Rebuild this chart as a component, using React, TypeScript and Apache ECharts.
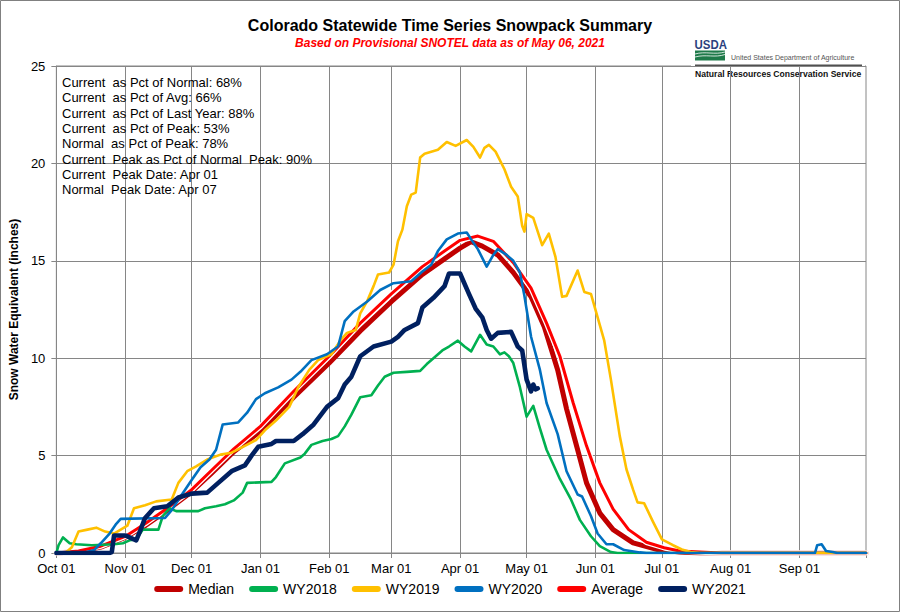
import React, { useEffect, useRef } from 'react';
import * as echarts from 'echarts';

const FONT = '"Liberation Sans", Arial, Helvetica, sans-serif';

// Month ticks (day of water year, 0 = Oct 01)
const monthStartDays = [0, 31, 61, 92, 123, 151, 182, 212, 243, 273, 304, 335];
const monthTickLabels = ['Oct 01', 'Nov 01', 'Dec 01', 'Jan 01', 'Feb 01', 'Mar 01', 'Apr 01', 'May 01', 'Jun 01', 'Jul 01', 'Aug 01', 'Sep 01'];
const yMin = 0;
const yMax = 25;
const yStep = 5;

// Series: [day of water year, snow water equivalent (inches)]
const median: [number, number][] = [
  [0, 0], [10, 0.08], [20, 0.3], [31, 0.8], [40, 1.4], [50, 2.2], [61, 3.15], [70, 4.1], [80, 5.2], [92, 6.25],
  [107, 8.0], [123, 9.75], [137, 11.4], [151, 12.9], [165, 14.3], [175, 15.1], [182, 15.65], [187, 15.98], [192, 15.75],
  [199, 15.3], [206, 14.4], [214, 13.15], [220, 11.6], [226, 9.4], [230, 7.4], [235, 5.3], [239, 3.6], [245, 2.05],
  [251, 1.2], [260, 0.52], [271, 0.18], [281, 0.05], [290, 0], [365, 0],
];
const average: [number, number][] = [
  [0, 0], [10, 0.1], [20, 0.35], [31, 0.85], [40, 1.5], [50, 2.3], [61, 3.25], [70, 4.25], [80, 5.35], [92, 6.5],
  [107, 8.3], [123, 10.1], [137, 11.8], [151, 13.3], [165, 14.7], [175, 15.5], [182, 16.05], [190, 16.27], [197, 16.0],
  [206, 14.9], [214, 13.6], [221, 11.8], [227, 10.1], [233, 7.7], [239, 5.5], [245, 3.6], [251, 2.25], [258, 1.2],
  [266, 0.55], [274, 0.27], [281, 0.1], [295, 0.02], [300, 0], [365, 0],
];
const wy2018: [number, number][] = [
  [0, 0], [1, 0.4], [3, 0.8], [6, 0.5], [9, 0.45], [16, 0.4], [26, 0.45], [30, 0.5], [33, 0.65], [36, 0.7], [39, 1.2],
  [46, 1.2], [48, 1.9], [51, 2.3], [54, 2.15], [64, 2.15], [67, 2.3], [72, 2.4], [76, 2.5], [80, 2.7], [84, 3.1],
  [86, 3.6], [97, 3.65], [99, 3.9], [103, 4.6], [110, 4.9], [112, 5.1], [115, 5.55], [120, 5.75], [124, 5.85],
  [127, 6.0], [130, 6.5], [133, 7.1], [137, 8.0], [142, 8.1], [145, 8.6], [148, 9.05], [152, 9.25], [158, 9.3],
  [164, 9.35], [167, 9.7], [170, 10.0], [174, 10.4], [177, 10.6], [181, 10.9], [184, 10.6], [187, 10.35], [191, 11.2],
  [194, 10.7], [197, 10.6], [200, 10.2], [202, 10.3], [204, 10.1], [206, 9.75], [209, 8.5], [212, 7.0], [215, 7.55],
  [218, 6.4], [221, 5.3], [223, 4.8], [227, 3.8], [232, 2.75], [236, 1.7], [241, 0.86], [245, 0.35], [250, 0.05],
  [253, 0], [365, 0],
];
const wy2019: [number, number][] = [
  [0, 0], [4, 0], [7, 0.3], [10, 1.1], [14, 1.2], [18, 1.3], [22, 1.1], [26, 1.0], [29, 1.2], [32, 1.4], [35, 2.3],
  [40, 2.45], [45, 2.65], [52, 2.75], [55, 3.6], [59, 4.2], [63, 4.45], [68, 4.8], [74, 5.05], [79, 5.15], [85, 5.5],
  [90, 5.8], [94, 6.3], [99, 6.8], [105, 7.5], [109, 8.5], [114, 9.4], [118, 9.9], [124, 10.2], [128, 10.9],
  [131, 11.3], [135, 11.45], [137, 12.3], [140, 12.9], [143, 13.7], [145, 14.3], [150, 14.4], [152, 14.8], [154, 16.0],
  [156, 16.6], [158, 17.8], [160, 18.4], [162, 18.5], [164, 20.3], [166, 20.5], [169, 20.6], [172, 20.7], [176, 21.1],
  [180, 20.9], [185, 21.2], [188, 20.85], [191, 20.3], [193, 20.8], [195, 20.95], [198, 20.6], [202, 19.7], [205, 18.8],
  [208, 18.3], [210, 16.8], [211, 16.5], [212, 17.4], [215, 17.2], [219, 15.8], [222, 16.4], [225, 15.2], [228, 13.15],
  [230, 13.2], [235, 14.5], [238, 13.4], [241, 13.3], [247, 10.9], [250, 8.9], [254, 6.0], [257, 4.3], [260, 3.25],
  [262, 2.6], [265, 2.55], [269, 1.6], [273, 0.7], [278, 0.4], [282, 0.18], [286, 0.05], [290, 0], [365, 0],
];
const wy2020: [number, number][] = [
  [0, 0], [12, 0], [17, 0.15], [20, 0.5], [24, 1.0], [27, 1.5], [29, 1.75], [49, 1.8], [52, 2.2], [56, 2.9], [61, 3.75],
  [65, 4.4], [69, 4.8], [72, 5.3], [75, 6.6], [82, 6.7], [86, 7.2], [90, 7.9], [94, 8.2], [100, 8.5], [106, 8.9],
  [110, 9.3], [115, 9.9], [122, 10.2], [127, 10.6], [130, 11.9], [134, 12.4], [140, 12.9], [146, 13.5], [152, 13.85],
  [160, 13.95], [165, 14.45], [169, 14.8], [172, 15.5], [176, 16.1], [181, 16.4], [185, 16.45], [187, 16.1], [190, 15.6],
  [194, 14.7], [197, 15.3], [199, 15.6], [203, 15.3], [206, 15.0], [209, 14.4], [211, 13.2], [214, 11.1], [218, 9.4],
  [221, 7.7], [226, 6.1], [230, 4.2], [235, 3.0], [237, 2.9], [241, 1.9], [244, 1.0], [248, 0.45], [251, 0.45],
  [256, 0.15], [263, 0.03], [266, 0], [342, 0], [343, 0.4], [345, 0.45], [347, 0.1], [350, 0.05], [352, 0], [365, 0],
];
const wy2021: [number, number][] = [
  [0, 0], [24, 0], [25, 0.05], [26, 0.9], [31, 0.9], [34, 0.75], [36, 0.65], [38, 1.2], [40, 1.8], [44, 2.3], [50, 2.4],
  [55, 2.85], [61, 3.05], [68, 3.1], [73, 3.6], [79, 4.2], [85, 4.5], [88, 5.0], [91, 5.45], [97, 5.6], [99, 5.75],
  [107, 5.75], [111, 6.1], [116, 6.6], [122, 7.5], [127, 7.95], [130, 8.65], [133, 9.05], [137, 10.1], [143, 10.6],
  [151, 10.85], [154, 11.1], [157, 11.45], [163, 11.8], [165, 12.6], [170, 13.1], [175, 13.7], [177, 14.35], [182, 14.35],
  [186, 13.3], [189, 12.55], [192, 12.1], [194, 11.45], [196, 11.0], [199, 11.3], [205, 11.35], [208, 10.6], [210, 10.4],
  [212, 8.9], [214, 8.3], [215, 8.65], [216, 8.4], [217, 8.45],
];

const seriesNames = ['Median', 'WY2018', 'WY2019', 'WY2020', 'Average', 'WY2021'];

const statsLines = [
  'Current  as Pct of Normal: 68%',
  'Current  as Pct of Avg: 66%',
  'Current  as Pct of Last Year: 88%',
  'Current  as Pct of Peak: 53%',
  'Normal  as Pct of Peak: 78%',
  'Current  Peak as Pct of Normal  Peak: 90%',
  'Current  Peak Date: Apr 01',
  'Normal  Peak Date: Apr 07',
];

const titleText = 'Colorado Statewide Time Series Snowpack Summary';
const subtitleText = 'Based on Provisional SNOTEL data as of May 06, 2021';
const yAxisTitle = 'Snow Water Equivalent (inches)';

const MONTHS = ['Jan', 'Feb', 'Mar', 'Apr', 'May', 'Jun', 'Jul', 'Aug', 'Sep', 'Oct', 'Nov', 'Dec'];
const categories: string[] = Array.from({ length: 366 }, (_, i) => {
  const d = new Date(Date.UTC(2020, 9, 1 + i));
  return `${MONTHS[d.getUTCMonth()]} ${String(d.getUTCDate()).padStart(2, '0')}`;
});
const monthStartSet = new Set(monthStartDays);

// rounded bar legend marker
const LEGEND_ICON = 'path://M3,0 L26,0 A3,3 0 0 1 26,6 L3,6 A3,3 0 0 1 3,0 Z';

export default function App() {
  const ref = useRef<HTMLDivElement>(null);

  useEffect(() => {
    if (!ref.current) return;
    const chart = echarts.init(ref.current, undefined, { renderer: 'svg' });

    const line = (name: string, data: [number, number][], color: string, width: number, z: number) => ({
      name,
      type: 'line',
      data,
      showSymbol: false,
      symbol: 'none',
      z,
      silent: true,
      lineStyle: { color, width, cap: 'round', join: 'round' },
      itemStyle: { color },
      emphasis: { disabled: true },
    });

    const gridColor = '#868686';

    chart.setOption({
      animation: false,
      backgroundColor: '#ffffff',
      textStyle: { fontFamily: FONT },
      title: [
        {
          text: titleText,
          left: 'center',
          top: 17,
          padding: 0,
          textStyle: { fontFamily: FONT, fontSize: 16, fontWeight: 'bold', color: '#000' },
        },
        {
          text: subtitleText,
          left: 'center',
          top: 37,
          padding: 0,
          textStyle: { fontFamily: FONT, fontSize: 12, fontWeight: 'bold', fontStyle: 'italic', color: '#ff0000' },
        },
      ],
      grid: {
        left: 54,
        right: 34,
        top: 66,
        bottom: 59,
        show: true,
        borderColor: gridColor,
        borderWidth: 1,
        containLabel: false,
      },
      legend: {
        data: seriesNames.map((n) => ({ name: n, icon: LEGEND_ICON })),
        left: 'center',
        top: 577,
        itemWidth: 29,
        itemHeight: 6,
        itemGap: 15,
        selectedMode: false,
        textStyle: { fontFamily: FONT, fontSize: 14, color: '#000' },
      },
      xAxis: {
        type: 'category',
        data: categories,
        boundaryGap: false,
        axisLine: { show: true, lineStyle: { color: gridColor, width: 1 } },
        axisTick: {
          show: true,
          length: 5,
          interval: (i: number) => monthStartSet.has(i) || i === 365,
          lineStyle: { color: gridColor },
        },
        axisLabel: {
          interval: (i: number) => monthStartSet.has(i),
          formatter: (_v: string, i: number) => {
            const k = monthStartDays.indexOf(i);
            return k >= 0 ? monthTickLabels[k] : '';
          },
          fontFamily: FONT,
          fontSize: 13,
          color: '#000',
          margin: 9,
        },
        splitLine: {
          show: true,
          interval: (i: number) => monthStartSet.has(i) && i !== 0,
          lineStyle: { color: gridColor, width: 1 },
        },
      },
      yAxis: {
        type: 'value',
        min: yMin,
        max: yMax,
        interval: yStep,
        name: yAxisTitle,
        nameLocation: 'middle',
        nameGap: 31,
        nameTextStyle: { fontFamily: FONT, fontSize: 12, fontWeight: 'bold', color: '#000' },
        axisLine: { show: true, lineStyle: { color: gridColor, width: 1 } },
        axisTick: { show: true, length: 5, lineStyle: { color: gridColor } },
        axisLabel: { fontFamily: FONT, fontSize: 13, color: '#000', margin: 11 },
        splitLine: { show: true, lineStyle: { color: gridColor, width: 1 } },
      },
      series: [
        line('Median', median, '#c00000', 5, 2),
        { ...line('AverageOutline', average, '#ffffff', 5.5, 3) },
        line('Average', average, '#ff0000', 3, 4),
        line('WY2018', wy2018, '#00b050', 2.6, 5),
        line('WY2019', wy2019, '#ffc000', 2.6, 6),
        line('WY2020', wy2020, '#0070c0', 2.6, 7),
        line('WY2021', wy2021, '#002060', 4.6, 8),
      ],
      graphic: [
        {
          type: 'rect',
          silent: true,
          shape: { x: 0.5, y: 0.5, width: 899, height: 611 },
          style: { fill: 'none', stroke: '#808080', lineWidth: 1 },
          z: 100,
        },
        {
          type: 'text',
          left: 62,
          top: 75,
          silent: true,
          z: 50,
          style: {
            text: statsLines.join('\n'),
            fontFamily: FONT,
            fontSize: 13,
            lineHeight: 15.3,
            fill: '#000',
          },
        },
        {
          type: 'group',
          silent: true,
          z: 60,
          children: [
            {
              type: 'rect',
              shape: { x: 691, y: 58, width: 174, height: 22 },
              style: { fill: '#ffffff' },
            },
            {
              type: 'text',
              x: 694.5,
              y: 38.5,
              scaleX: 0.88,
              originX: 0,
              originY: 0,
              style: {
                text: 'USDA',
                fontFamily: FONT,
                fontSize: 13,
                fontWeight: 'bold',
                fill: '#2a3f7e',
              },
            },
            {
              type: 'rect',
              shape: { x: 695, y: 50.5, width: 30, height: 10 },
              style: { fill: '#1f7a4a' },
            },
            {
              type: 'bezierCurve',
              shape: { x1: 695, y1: 54, x2: 725, y2: 52, cpx1: 705, cpy1: 51, cpx2: 715, cpy2: 55 },
              style: { stroke: '#ffffff', lineWidth: 0.8, fill: 'none' },
            },
            {
              type: 'bezierCurve',
              shape: { x1: 695, y1: 57, x2: 725, y2: 54.5, cpx1: 706, cpy1: 54, cpx2: 715, cpy2: 58 },
              style: { stroke: '#ffffff', lineWidth: 0.8, fill: 'none' },
            },
            {
              type: 'text',
              x: 731,
              y: 54,
              style: {
                text: 'United States Department of Agriculture',
                fontFamily: FONT,
                fontSize: 7,
                fill: '#555555',
              },
            },
            {
              type: 'line',
              shape: { x1: 695, y1: 65.5, x2: 862, y2: 65.5 },
              style: { stroke: '#505050', lineWidth: 2 },
            },
            {
              type: 'text',
              x: 695,
              y: 69,
              style: {
                text: 'Natural Resources Conservation Service',
                fontFamily: FONT,
                fontSize: 8.6,
                fontWeight: 'bold',
                fill: '#111111',
              },
            },
          ],
        },
      ],
    });

    return () => chart.dispose();
  }, []);

  return (
    <div
      ref={ref}
      style={{ position: 'absolute', left: 0, top: 0, width: 900, height: 612, background: '#fff' }}
    />
  );
}
